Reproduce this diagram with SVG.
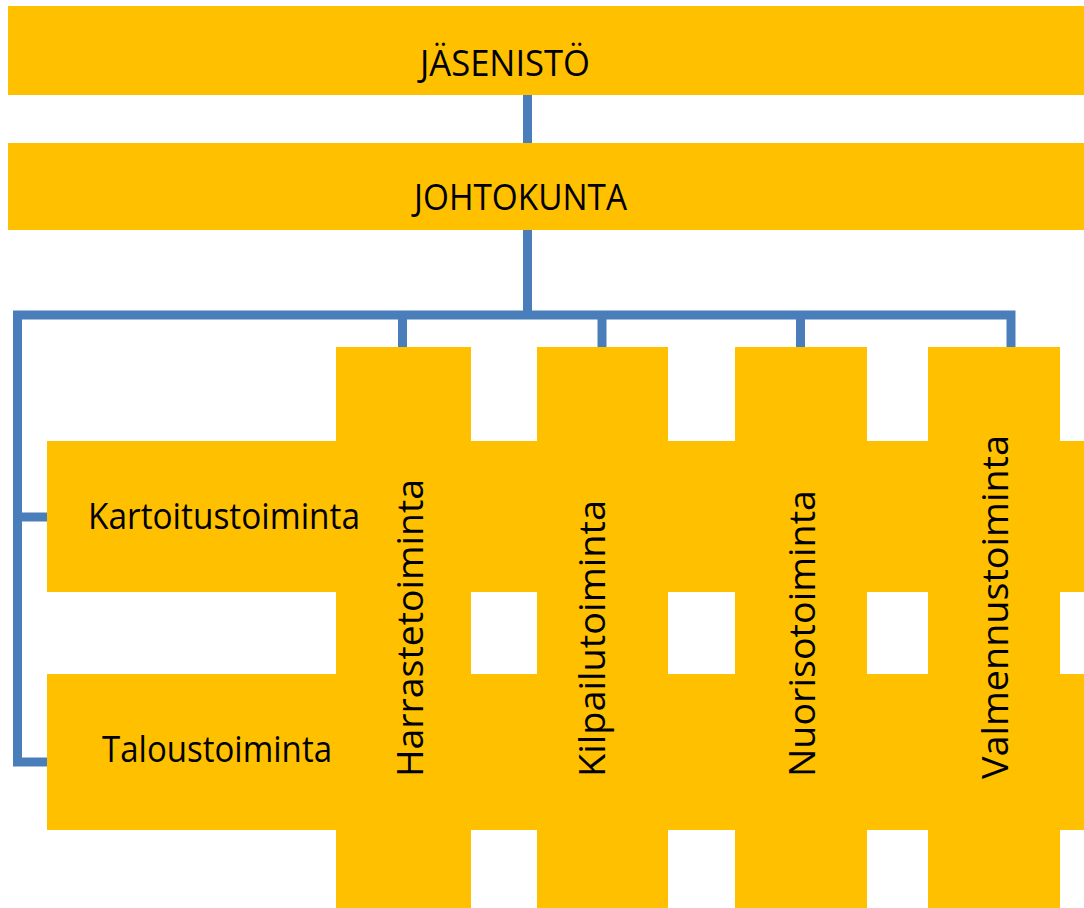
<svg xmlns="http://www.w3.org/2000/svg" width="1084" height="908" viewBox="0 0 1084 908">
<style>
.box{fill:#FFC000;}
.lbl{font-family:"Open Sans","Noto Sans","Liberation Sans",sans-serif;font-size:36px;fill:#000;}
.con{fill:none;stroke:#4A7EBB;stroke-width:9;stroke-linejoin:miter;stroke-linecap:butt;}
</style>
<rect width="1084" height="908" fill="#fff"/>
<g id="connectors">
<path class="con" d="M527.5 95 V143"/>
<path class="con" d="M527.5 230 V315"/>
<path class="con" d="M47 762 H17.5 V315 H1011 V347"/>
<path class="con" d="M17.5 517 H47"/>
<path class="con" d="M402.5 315 V347"/>
<path class="con" d="M602 315 V347"/>
<path class="con" d="M800.5 315 V347"/>
</g>
<g id="jasenisto">
<rect class="box" x="8" y="6" width="1076" height="89"/>
<text class="lbl" x="420" y="76" textLength="170" lengthAdjust="spacingAndGlyphs">JÄSENISTÖ</text>
</g>
<g id="johtokunta">
<rect class="box" x="8" y="143" width="1076" height="87"/>
<text class="lbl" x="414" y="210" textLength="213" lengthAdjust="spacingAndGlyphs">JOHTOKUNTA</text>
</g>
<g id="kartoitustoiminta">
<rect class="box" x="47" y="441" width="1037" height="151"/>
<text class="lbl" x="88" y="529" textLength="272" lengthAdjust="spacingAndGlyphs">Kartoitustoiminta</text>
</g>
<g id="taloustoiminta">
<rect class="box" x="47" y="674" width="1037" height="156"/>
<text class="lbl" x="102" y="762" textLength="230" lengthAdjust="spacingAndGlyphs">Taloustoiminta</text>
</g>
<g id="harrastetoiminta">
<path class="box" d="M336 347 H471 V441 H336 Z M336 592 H471 V674 H336 Z M336 830 H471 V908 H336 Z"/>
<text class="lbl" transform="translate(423,777) rotate(-90)" x="0" y="0" textLength="298" lengthAdjust="spacingAndGlyphs">Harrastetoiminta</text>
</g>
<g id="kilpailutoiminta">
<path class="box" d="M537 347 H668 V441 H537 Z M537 592 H668 V674 H537 Z M537 830 H668 V908 H537 Z"/>
<text class="lbl" transform="translate(605,777) rotate(-90)" x="0" y="0" textLength="277" lengthAdjust="spacingAndGlyphs">Kilpailutoiminta</text>
</g>
<g id="nuorisotoiminta">
<path class="box" d="M735 347 H867 V441 H735 Z M735 592 H867 V674 H735 Z M735 830 H867 V908 H735 Z"/>
<text class="lbl" transform="translate(815,777) rotate(-90)" x="0" y="0" textLength="287" lengthAdjust="spacingAndGlyphs">Nuorisotoiminta</text>
</g>
<g id="valmennustoiminta">
<path class="box" d="M928 347 H1060 V441 H928 Z M928 592 H1060 V674 H928 Z M928 830 H1060 V908 H928 Z"/>
<text class="lbl" transform="translate(1008,779) rotate(-90)" x="0" y="0" textLength="344" lengthAdjust="spacingAndGlyphs">Valmennustoiminta</text>
</g>
</svg>
